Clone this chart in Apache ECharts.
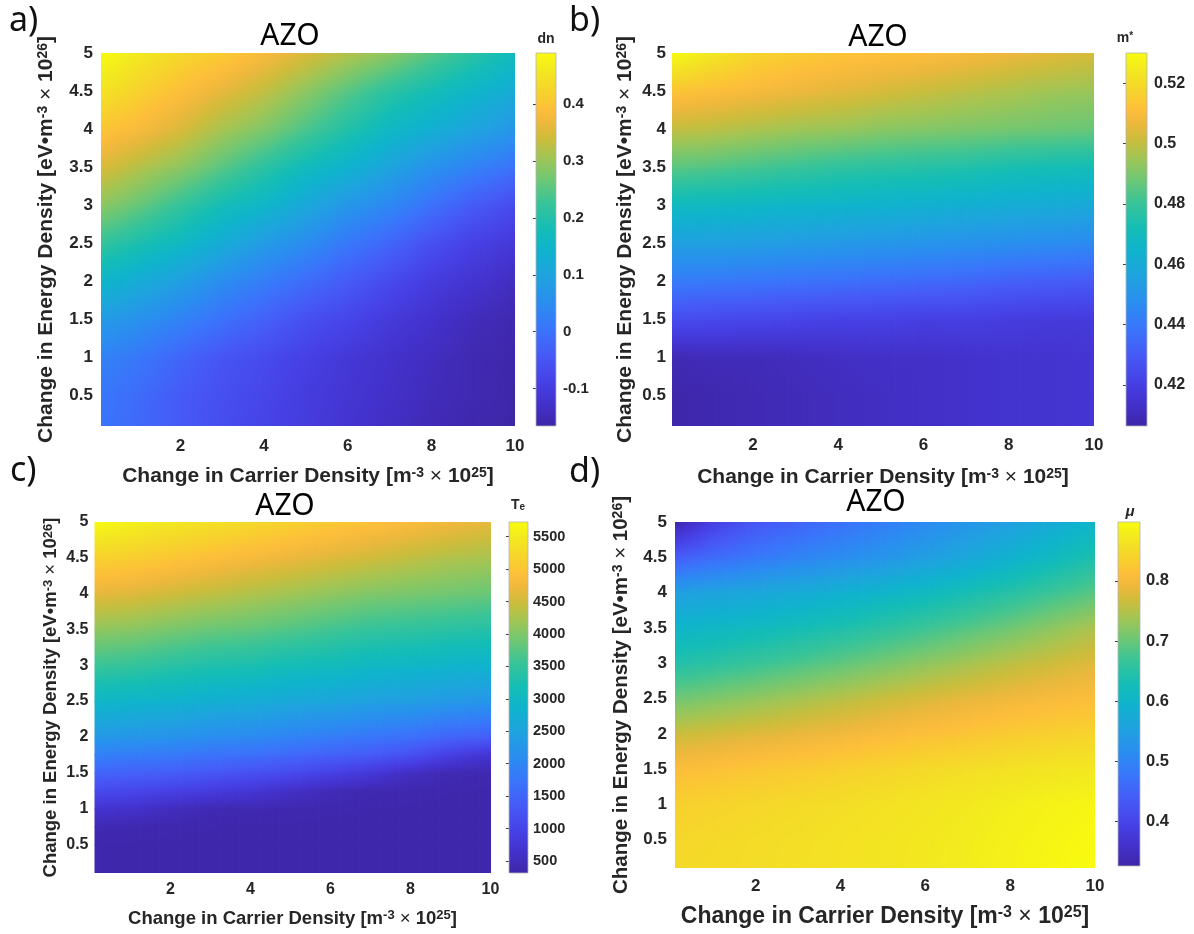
<!DOCTYPE html>
<html>
<head>
<meta charset="utf-8">
<script src="https://cdn.jsdelivr.net/npm/echarts@6/dist/echarts.min.js"></script>
<style>
  html, body { margin: 0; padding: 0; background: #ffffff; }
  #chart { width: 1194px; height: 934px; }
</style>
</head>
<body>
<div id="chart"></div>
<script>
// ---- sampling grid (carrier density x 1e25, energy density x 1e26) ----
const X_NODES = [0.1, 1, 2, 3, 4, 5, 6, 7, 8, 9, 10];
const Y_NODES = [0.1, 0.5, 1, 1.5, 2, 2.5, 3, 3.5, 4, 4.5, 5];
const Y_NODES_TE = [0.1, 0.5, 0.75, 1, 1.25, 1.5, 1.75, 2, 2.5, 3, 3.5, 4, 4.5, 5];
const X_TICKS = [2, 4, 6, 8, 10];
const Y_TICKS = [0.5, 1, 1.5, 2, 2.5, 3, 3.5, 4, 4.5, 5];

// ---- a) refractive index change dn; rows from bottom (y = 0.1) to top (y = 5) ----
const DN = [
  [0.005, -0.015, -0.04, -0.065, -0.085, -0.10, -0.12, -0.135, -0.15, -0.16, -0.166],
  [0.01, -0.01, -0.04, -0.06, -0.08, -0.10, -0.115, -0.13, -0.145, -0.155, -0.165],
  [0.03, 0.01, -0.02, -0.05, -0.07, -0.09, -0.11, -0.125, -0.14, -0.155, -0.163],
  [0.08, 0.06, 0.03, 0.00, -0.03, -0.06, -0.08, -0.105, -0.125, -0.145, -0.158],
  [0.15, 0.12, 0.09, 0.05, 0.02, -0.01, -0.04, -0.07, -0.10, -0.12, -0.14],
  [0.22, 0.19, 0.16, 0.12, 0.08, 0.05, 0.01, -0.02, -0.06, -0.09, -0.11],
  [0.29, 0.26, 0.22, 0.18, 0.15, 0.11, 0.07, 0.04, 0.00, -0.04, -0.07],
  [0.35, 0.32, 0.29, 0.25, 0.21, 0.17, 0.14, 0.10, 0.06, 0.03, 0.00],
  [0.40, 0.38, 0.35, 0.31, 0.28, 0.24, 0.20, 0.16, 0.13, 0.10, 0.07],
  [0.45, 0.42, 0.39, 0.36, 0.33, 0.29, 0.25, 0.21, 0.18, 0.15, 0.12],
  [0.49, 0.46, 0.43, 0.41, 0.38, 0.35, 0.32, 0.29, 0.25, 0.21, 0.17]
];
const DN_RANGE = [-0.166, 0.490];
const DN_TICKS = [-0.1, 0, 0.1, 0.2, 0.3, 0.4];

// ---- b) effective mass m* ----
const MSTAR = [
  [0.407, 0.408, 0.409, 0.410, 0.411, 0.412, 0.413, 0.414, 0.415, 0.415, 0.416],
  [0.407, 0.408, 0.409, 0.410, 0.411, 0.412, 0.413, 0.414, 0.415, 0.415, 0.416],
  [0.409, 0.410, 0.410, 0.411, 0.412, 0.413, 0.413, 0.414, 0.415, 0.415, 0.416],
  [0.425, 0.424, 0.423, 0.422, 0.421, 0.421, 0.420, 0.420, 0.419, 0.418, 0.418],
  [0.441, 0.440, 0.439, 0.438, 0.437, 0.436, 0.435, 0.434, 0.432, 0.431, 0.430],
  [0.455, 0.455, 0.454, 0.453, 0.452, 0.451, 0.450, 0.449, 0.448, 0.447, 0.446],
  [0.469, 0.468, 0.467, 0.466, 0.465, 0.464, 0.463, 0.462, 0.461, 0.460, 0.459],
  [0.485, 0.484, 0.482, 0.480, 0.478, 0.477, 0.476, 0.475, 0.473, 0.472, 0.471],
  [0.500, 0.499, 0.497, 0.495, 0.494, 0.492, 0.491, 0.490, 0.489, 0.488, 0.487],
  [0.513, 0.511, 0.509, 0.507, 0.505, 0.503, 0.501, 0.499, 0.497, 0.495, 0.494],
  [0.530, 0.524, 0.518, 0.515, 0.513, 0.512, 0.511, 0.509, 0.507, 0.505, 0.503]
];
const MSTAR_RANGE = [0.4064, 0.530];
const MSTAR_TICKS = [0.42, 0.44, 0.46, 0.48, 0.5, 0.52];

// ---- c) electron temperature Te (rows follow Y_NODES_TE) ----
const TE = [
  [360, 355, 350, 345, 345, 340, 340, 335, 335, 330, 330],
  [360, 355, 350, 345, 345, 340, 340, 335, 335, 330, 330],
  [420, 390, 370, 360, 355, 350, 345, 340, 340, 335, 335],
  [700, 650, 520, 420, 400, 380, 370, 360, 350, 345, 340],
  [1100, 1050, 950, 850, 750, 600, 460, 400, 380, 360, 350],
  [1500, 1450, 1400, 1300, 1200, 1100, 950, 780, 550, 420, 380],
  [1900, 1850, 1800, 1700, 1650, 1550, 1450, 1350, 1200, 900, 700],
  [2300, 2250, 2200, 2100, 2050, 1950, 1850, 1750, 1650, 1500, 1400],
  [2950, 2900, 2850, 2750, 2700, 2600, 2550, 2450, 2400, 2300, 2250],
  [3550, 3500, 3400, 3300, 3250, 3150, 3100, 3000, 2950, 2900, 2850],
  [4100, 4050, 3950, 3850, 3800, 3700, 3600, 3500, 3450, 3400, 3350],
  [4650, 4600, 4500, 4400, 4300, 4200, 4100, 4000, 3950, 3900, 3850],
  [5150, 5100, 5000, 4900, 4800, 4700, 4600, 4500, 4400, 4300, 4250],
  [5720, 5580, 5450, 5350, 5250, 5150, 5050, 4950, 4850, 4750, 4650]
];
const TE_RANGE = [315, 5727];
const TE_TICKS = [500, 1000, 1500, 2000, 2500, 3000, 3500, 4000, 4500, 5000, 5500];

// ---- d) mobility mu ----
const MU = [
  [0.848, 0.850, 0.853, 0.857, 0.861, 0.866, 0.871, 0.877, 0.884, 0.891, 0.898],
  [0.845, 0.848, 0.852, 0.856, 0.860, 0.865, 0.870, 0.876, 0.883, 0.889, 0.895],
  [0.835, 0.840, 0.845, 0.850, 0.855, 0.860, 0.866, 0.872, 0.879, 0.885, 0.890],
  [0.810, 0.815, 0.822, 0.828, 0.835, 0.842, 0.849, 0.855, 0.861, 0.866, 0.870],
  [0.765, 0.772, 0.780, 0.788, 0.796, 0.805, 0.813, 0.820, 0.828, 0.835, 0.840],
  [0.705, 0.715, 0.727, 0.740, 0.752, 0.765, 0.776, 0.786, 0.795, 0.803, 0.810],
  [0.645, 0.655, 0.667, 0.680, 0.695, 0.710, 0.725, 0.740, 0.755, 0.768, 0.780],
  [0.600, 0.608, 0.617, 0.628, 0.640, 0.655, 0.670, 0.687, 0.705, 0.725, 0.745],
  [0.550, 0.558, 0.566, 0.576, 0.588, 0.600, 0.615, 0.632, 0.650, 0.670, 0.690],
  [0.440, 0.462, 0.482, 0.500, 0.515, 0.530, 0.548, 0.567, 0.590, 0.615, 0.640],
  [0.330, 0.390, 0.430, 0.450, 0.470, 0.490, 0.510, 0.530, 0.550, 0.575, 0.600]
];
const MU_RANGE = [0.326, 0.898];
const MU_TICKS = [0.4, 0.5, 0.6, 0.7, 0.8];

// ---- parula-style colour map ----
const PARULA = [
  [0.00, '#3e26a8'], [0.06, '#4331cb'], [0.12, '#4641e6'], [0.19, '#4659f6'],
  [0.26, '#3a74fb'], [0.33, '#2a8df0'], [0.40, '#1fa2df'], [0.47, '#0fb3cd'],
  [0.53, '#14bdb5'], [0.60, '#3ac497'], [0.66, '#6ec774'], [0.72, '#a2c554'],
  [0.77, '#cdbc3b'], [0.81, '#ecb83c'], [0.845, '#fdbd3b'], [0.88, '#f9cc30'],
  [0.92, '#f4dc27'], [0.96, '#f3eb1e'], [1.00, '#f9fb0e']
];
const PARULA_RGB = PARULA.map(([t, hex]) => [t,
  parseInt(hex.slice(1, 3), 16), parseInt(hex.slice(3, 5), 16), parseInt(hex.slice(5, 7), 16)]);

function colorOf(v, range) {
  let t = (v - range[0]) / (range[1] - range[0]);
  t = Math.max(0, Math.min(1, t));
  for (let i = 1; i < PARULA_RGB.length; i++) {
    const a = PARULA_RGB[i - 1], b = PARULA_RGB[i];
    if (t <= b[0]) {
      const s = (t - a[0]) / (b[0] - a[0]);
      return 'rgb(' + Math.round(a[1] + (b[1] - a[1]) * s) + ',' +
        Math.round(a[2] + (b[2] - a[2]) * s) + ',' + Math.round(a[3] + (b[3] - a[3]) * s) + ')';
    }
  }
  const l = PARULA_RGB[PARULA_RGB.length - 1];
  return 'rgb(' + l[1] + ',' + l[2] + ',' + l[3] + ')';
}

// one item per grid cell: corners and the four node values
function cellItems(xs, ys, z) {
  const out = [];
  for (let j = 0; j < ys.length - 1; j++) {
    for (let i = 0; i < xs.length - 1; i++) {
      out.push([xs[i], ys[j], xs[i + 1], ys[j + 1], z[j][i], z[j][i + 1], z[j + 1][i], z[j + 1][i + 1]]);
    }
  }
  return out;
}

// interpolated shading inside each cell: thin vertical strips with vertical gradients
function shadedCell(range) {
  return function (params, api) {
    const p0 = api.coord([api.value(0), api.value(1)]);
    const p1 = api.coord([api.value(2), api.value(3)]);
    const v00 = api.value(4), v10 = api.value(5), v01 = api.value(6), v11 = api.value(7);
    const left = p0[0], right = p1[0], bottom = p0[1], top = p1[1];
    const w = right - left;
    const K = Math.max(2, Math.ceil(w / 3));
    const children = [];
    for (let k = 0; k < K; k++) {
      const t = (k + 0.5) / K;
      const vb = v00 + (v10 - v00) * t;
      const vt = v01 + (v11 - v01) * t;
      const stops = [];
      for (let m = 0; m <= 6; m++) {
        const s = m / 6;
        stops.push({ offset: s, color: colorOf(vb + (vt - vb) * s, range) });
      }
      children.push({
        type: 'rect',
        shape: { x: left + w * k / K, y: top, width: w / K + 0.8, height: bottom - top + 0.8 },
        style: { fill: new echarts.graphic.LinearGradient(0, 1, 0, 0, stops) },
        silent: true
      });
    }
    return { type: 'group', children: children };
  };
}

// colour bar: one rectangle spanning the colour range
function colorBar(params, api) {
  const lo = api.coord([0, api.value(0)]);
  const hi = api.coord([1, api.value(1)]);
  const stops = PARULA.map(([t, c]) => ({ offset: t, color: c }));
  return {
    type: 'rect',
    shape: { x: lo[0], y: hi[1], width: hi[0] - lo[0], height: lo[1] - hi[1] },
    style: { fill: new echarts.graphic.LinearGradient(0, 1, 0, 0, stops), stroke: '#b4b4b4', lineWidth: 0.8 }
  };
}

const FONT = '"Liberation Sans", Arial, Helvetica, sans-serif';
const TEXT = '#262626';
const X_NAME = 'Change in Carrier Density [m{sup|-3} {t|\u00d7} 10{sup|25}]';
const Y_NAME = 'Change in Energy Density [eV\u2022m{sup|-3} {t|\u00d7} 10{sup|26}]';

function nameStyle(fs) {
  return {
    fontFamily: FONT, fontWeight: 'bold', fontSize: fs, color: TEXT,
    rich: {
      sup: { fontFamily: FONT, fontWeight: 'bold', fontSize: Math.round(fs * 0.68), color: TEXT, verticalAlign: 'top' },
      t: { fontFamily: FONT, fontWeight: 'normal', fontSize: fs, color: TEXT }
    }
  };
}

// panel layout
const PANELS = [
  { plot: { left: 101, top: 53, width: 414, height: 373 }, bar: { left: 536, top: 53, width: 20, height: 373 },
    ys: Y_NODES, z: DN, range: DN_RANGE, ticks: DN_TICKS,
    tickFs: 17, xNameFs: 21, yNameFs: 21, xGap: 40, yGap: 44, xMargin: 12, yMargin: 8, barFs: 15, barMargin: 7 },
  { plot: { left: 672, top: 53, width: 422, height: 373 }, bar: { left: 1126, top: 53, width: 21, height: 373 },
    ys: Y_NODES, z: MSTAR, range: MSTAR_RANGE, ticks: MSTAR_TICKS,
    tickFs: 17, xNameFs: 21, yNameFs: 21, xGap: 41, yGap: 36, xMargin: 11, yMargin: 6, barFs: 16, barMargin: 7 },
  { plot: { left: 94.5, top: 522, width: 396, height: 351 }, bar: { left: 509, top: 522, width: 19, height: 351 },
    ys: Y_NODES_TE, z: TE, range: TE_RANGE, ticks: TE_TICKS,
    tickFs: 16, xNameFs: 18.5, yNameFs: 18.5, xGap: 36, yGap: 34, xMargin: 9, yMargin: 6, barFs: 14.5, barMargin: 5 },
  { plot: { left: 675, top: 522, width: 420, height: 346 }, bar: { left: 1118, top: 522, width: 22, height: 344 },
    ys: Y_NODES, z: MU, range: MU_RANGE, ticks: MU_TICKS,
    tickFs: 17, xNameFs: 23, yNameFs: 20.5, xGap: 37, yGap: 43, xMargin: 10, yMargin: 8, barFs: 16.5, barMargin: 6 }
];

const grids = [], xAxes = [], yAxes = [], series = [];
PANELS.forEach((p, i) => {
  grids.push(Object.assign({ outerBoundsMode: 'none', containLabel: false }, p.plot));
  xAxes.push({
    gridIndex: i, type: 'value', min: 0.1, max: 10,
    axisLine: { show: false }, axisTick: { show: false }, splitLine: { show: false },
    axisLabel: { customValues: X_TICKS, fontFamily: FONT, fontWeight: 'bold', fontSize: p.tickFs, color: TEXT, margin: p.xMargin },
    name: X_NAME, nameLocation: 'middle', nameGap: p.xGap, nameTextStyle: nameStyle(p.xNameFs)
  });
  yAxes.push({
    gridIndex: i, type: 'value', min: 0.1, max: 5,
    axisLine: { show: false }, axisTick: { show: false }, splitLine: { show: false },
    axisLabel: { customValues: Y_TICKS, fontFamily: FONT, fontWeight: 'bold', fontSize: p.tickFs, color: TEXT, margin: p.yMargin },
    name: Y_NAME, nameLocation: 'middle', nameGap: p.yGap, nameRotate: 90, nameTextStyle: nameStyle(p.yNameFs)
  });
  series.push({
    type: 'custom', coordinateSystem: 'cartesian2d', xAxisIndex: i, yAxisIndex: i,
    data: cellItems(X_NODES, p.ys, p.z), renderItem: shadedCell(p.range),
    encode: { x: [0, 2], y: [1, 3] }, clip: true, silent: true, animation: false
  });
});
PANELS.forEach((p, i) => {
  const gi = PANELS.length + i;
  grids.push(Object.assign({ outerBoundsMode: 'none', containLabel: false }, p.bar));
  xAxes.push({ gridIndex: gi, type: 'value', min: 0, max: 1, show: false });
  yAxes.push({
    gridIndex: gi, type: 'value', min: p.range[0], max: p.range[1], position: 'right',
    axisLine: { show: false }, splitLine: { show: false },
    axisTick: { show: true, inside: true, length: 3, customValues: p.ticks, lineStyle: { color: '#3a3a3a', width: 1 } },
    axisLabel: { customValues: p.ticks, formatter: (v) => String(v), fontFamily: FONT, fontWeight: 'bold',
      fontSize: p.barFs, color: TEXT, margin: p.barMargin }
  });
  series.push({
    type: 'custom', coordinateSystem: 'cartesian2d', xAxisIndex: gi, yAxisIndex: gi,
    data: [[p.range[0], p.range[1]]], renderItem: colorBar,
    encode: { y: [0, 1] }, silent: true, animation: false
  });
});

function txt(x, y, text, font, extra) {
  return {
    type: 'text', x: x, y: y, silent: true,
    style: Object.assign({ text: text, font: font, fill: '#111111', textAlign: 'center', textVerticalAlign: 'middle' }, extra || {})
  };
}
const TITLE_FONT = '30px "Noto Sans", "Open Sans", sans-serif';
const LETTER_FONT = '34px "Noto Sans", "Open Sans", sans-serif';
const CB_FONT = 'bold 14px ' + FONT;

const graphic = [
  txt(9, 21, 'a)', LETTER_FONT, { textAlign: 'left' }),
  txt(569, 21, 'b)', LETTER_FONT, { textAlign: 'left' }),
  txt(10, 471, 'c)', LETTER_FONT, { textAlign: 'left' }),
  txt(569, 472, 'd)', LETTER_FONT, { textAlign: 'left' }),
  txt(290, 36, 'AZO', TITLE_FONT, { fill: '#000000' }),
  txt(878, 37, 'AZO', TITLE_FONT, { fill: '#000000' }),
  txt(285, 506, 'AZO', TITLE_FONT, { fill: '#000000' }),
  txt(876, 502, 'AZO', TITLE_FONT, { fill: '#000000' }),
  txt(546, 39, 'dn', CB_FONT, { fill: TEXT }),
  txt(1125, 38, 'm{s|*}', CB_FONT, { fill: TEXT, rich: { s: { fontFamily: FONT, fontWeight: 'bold', fontSize: 10, verticalAlign: 'top', fill: TEXT } } }),
  txt(518, 505, 'T{s|e}', CB_FONT, { fill: TEXT, rich: { s: { fontFamily: FONT, fontWeight: 'bold', fontSize: 10, verticalAlign: 'bottom', fill: TEXT } } }),
  txt(1130, 512, '\u03bc', 'italic bold 15px ' + FONT, { fill: TEXT })
];

const chart = echarts.init(document.getElementById('chart'), null, { renderer: 'canvas' });
chart.setOption({
  backgroundColor: '#ffffff',
  animation: false,
  grid: grids,
  xAxis: xAxes,
  yAxis: yAxes,
  series: series,
  graphic: graphic
});
</script>
</body>
</html>
